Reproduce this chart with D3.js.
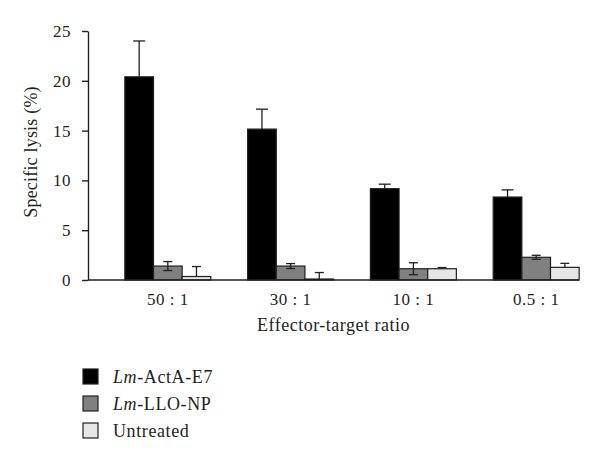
<!DOCTYPE html>
<html><head><meta charset="utf-8">
<script src="https://cdn.jsdelivr.net/npm/d3@7"></script>
<style>body{margin:0;background:#fff}svg{display:block}text{font-family:"Liberation Serif","DejaVu Serif",serif;fill:#231f20}</style>
</head><body>
<svg id="c" width="600" height="463"></svg>
<script>
const categories = ["50 : 1", "30 : 1", "10 : 1", "0.5 : 1"];
const seriesNames = ["ActA-E7", "LLO-NP", "Untreated"];
const actaE7 = [20.4, 15.15, 9.17, 8.33];
const actaE7Err = [3.6, 2.0, 0.45, 0.72];
const lloNP = [1.4, 1.4, 1.13, 2.28];
const lloNPErr = [0.45, 0.25, 0.6, 0.2];
const untreated = [0.35, 0.1, 1.13, 1.27];
const untreatedErr = [1.0, 0.65, 0.12, 0.4];
const yTicks = [0, 5, 10, 15, 20, 25];

const series = [
  {name: seriesNames[0], values: actaE7, err: actaE7Err, fill: "#000000", two: false, italic: "Lm", rest: "-ActA-E7"},
  {name: seriesNames[1], values: lloNP, err: lloNPErr, fill: "#808080", two: true, italic: "Lm", rest: "-LLO-NP"},
  {name: seriesNames[2], values: untreated, err: untreatedErr, fill: "#e6e6e6", two: false, italic: "", rest: "Untreated"}
];

const svg = d3.select("#c");
const x0 = 88, x1 = 579, yTop = 31, yBot = 280;
const y = d3.scaleLinear().domain([0, 25]).range([yBot, yTop]);
const x = d3.scaleBand().domain(categories).range([x0, 616]).paddingInner(0.3).paddingOuter(0.3);
const xs = d3.scaleBand().domain(seriesNames).range([0, x.bandwidth()]);

// y axis
const yAxis = svg.append("g").attr("transform", `translate(${x0},0)`)
  .call(d3.axisLeft(y).tickValues(yTicks).tickSize(6).tickPadding(11).tickSizeOuter(0));
yAxis.select(".domain").attr("stroke", "#231f20").attr("stroke-width", 1.4);
yAxis.selectAll(".tick line").attr("stroke", "#231f20").attr("stroke-width", 1.4);
yAxis.selectAll(".tick text").style("font-size", "17px").style("letter-spacing", "0.5px")
  .style("font-family", "Liberation Serif, serif").attr("fill", "#231f20");

// bars
series.forEach(s => {
  const g = svg.append("g");
  g.selectAll("rect").data(categories).join("rect")
    .attr("x", (c) => x(c) + xs(s.name))
    .attr("y", (c, i) => y(s.values[i]))
    .attr("width", xs.bandwidth())
    .attr("height", (c, i) => y(0) - y(s.values[i]))
    .attr("fill", s.fill).attr("stroke", "#231f20").attr("stroke-width", 1.2);
  const capW = s.name === seriesNames[0] ? 12 : 9;
  categories.forEach((c, i) => {
    const cx = x(c) + xs(s.name) + xs.bandwidth() / 2;
    const top = y(s.values[i] + s.err[i]);
    const low = s.two ? y(Math.max(0, s.values[i] - s.err[i])) : y(s.values[i]);
    g.append("line").attr("x1", cx).attr("x2", cx).attr("y1", top).attr("y2", low)
      .attr("stroke", "#231f20").attr("stroke-width", 1.3);
    g.append("line").attr("x1", cx - capW / 2).attr("x2", cx + capW / 2).attr("y1", top).attr("y2", top)
      .attr("stroke", "#231f20").attr("stroke-width", 1.3);
    if (s.two) {
      g.append("line").attr("x1", cx - capW / 2).attr("x2", cx + capW / 2).attr("y1", low).attr("y2", low)
        .attr("stroke", "#231f20").attr("stroke-width", 1.3);
    }
  });
});

// x axis line
svg.append("line").attr("x1", x0).attr("x2", x1).attr("y1", yBot).attr("y2", yBot)
  .attr("stroke", "#231f20").attr("stroke-width", 1.4);
// x labels
svg.selectAll(".xl").data(categories).join("text")
  .attr("x", c => x(c) + x.bandwidth() / 2).attr("y", 305)
  .attr("text-anchor", "middle").style("font-size", "17px").style("letter-spacing", "0.5px").text(c => c);

svg.append("text").attr("x", (x0 + x1) / 2).attr("y", 331).attr("text-anchor", "middle")
  .style("font-size", "18px").style("letter-spacing", "0.5px").text("Effector-target ratio");
svg.append("text").attr("transform", "translate(37,152) rotate(-90)").attr("text-anchor", "middle")
  .style("font-size", "18px").style("letter-spacing", "0.2px").text("Specific lysis (%)");

// legend
series.forEach((s, i) => {
  const ly = 369 + i * 27;
  svg.append("rect").attr("x", 83).attr("y", ly).attr("width", 15).attr("height", 15)
    .attr("fill", s.fill).attr("stroke", "#231f20").attr("stroke-width", 1.2);
  const t = svg.append("text").attr("x", 113).attr("y", ly + 14).style("font-size", "18px").style("letter-spacing", "0.6px");
  if (s.italic) t.append("tspan").style("font-style", "italic").text(s.italic);
  t.append("tspan").text(s.rest);
});
</script>
</body></html>
